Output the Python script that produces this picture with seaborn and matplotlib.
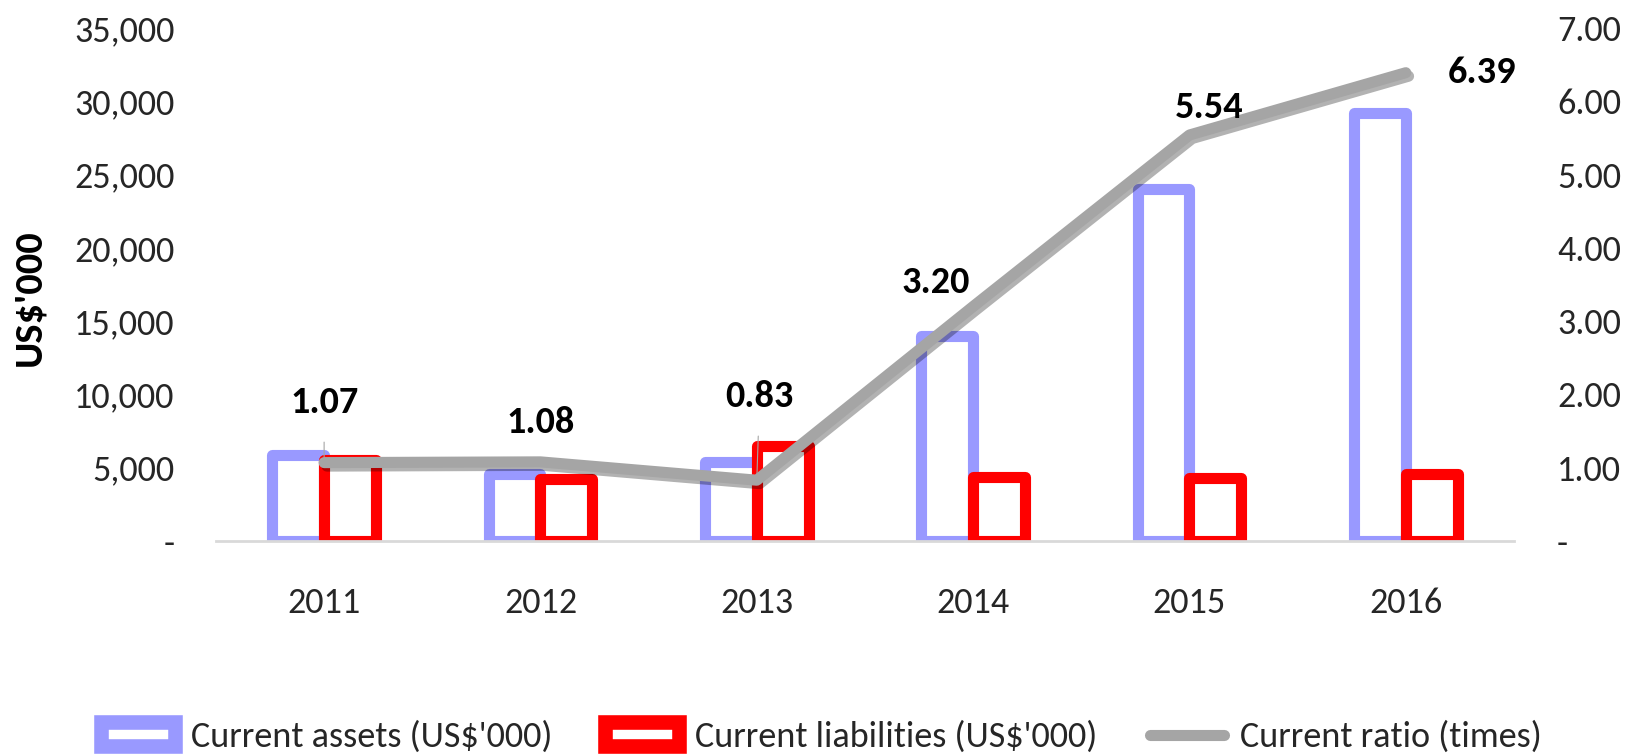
import matplotlib
matplotlib.use("Agg")
import matplotlib.pyplot as plt
import matplotlib.patheffects as pe
from matplotlib import font_manager as fm
from matplotlib.patches import Rectangle
from matplotlib.lines import Line2D
from matplotlib.ticker import FuncFormatter, MultipleLocator
import numpy as np
import pandas as pd
import seaborn as sns

# ---- data ----
years = ["2011", "2012", "2013", "2014", "2015", "2016"]
current_assets = [5900, 4600, 5400, 14000, 24000, 29200]
current_liabilities = [5500, 4250, 6500, 4370, 4330, 4570]
current_ratio = [1.07, 1.08, 0.83, 3.20, 5.54, 6.39]
series_names = ["Current assets (US$'000)", "Current liabilities (US$'000)", "Current ratio (times)"]
y_label = "US$'000"

# ---- style ----
sns.set_theme(style="white")
available = {f.name for f in fm.fontManager.ttflist}
family = next((f for f in ["Carlito", "Lato"] if f in available), "DejaVu Sans")
plt.rcParams["font.family"] = [family, "DejaVu Sans"]
FS = 26
C_ASSETS = "#9999FF"
C_LIAB = "#FF0000"
C_RATIO = "#A5A5A5"
TXT = "#262626"

df = pd.DataFrame({
    "Year": years * 2,
    "Value": current_assets + current_liabilities,
    "Series": [series_names[0]] * len(years) + [series_names[1]] * len(years),
})

fig = plt.figure(figsize=(16.36, 7.55), dpi=100)
ax = fig.add_axes([0.132, 0.2834, 0.7934, 0.6795])

sns.barplot(data=df, x="Year", y="Value", hue="Series", ax=ax,
            palette=[C_ASSETS, C_LIAB], width=0.48, dodge=True,
            fill=False, linewidth=8, legend=False, zorder=2)
for p in ax.patches:
    p.set_facecolor("white")
    p.set_joinstyle("round")
    p.set_path_effects([pe.SimplePatchShadow(offset=(1.5, -1.5), alpha=0.2, shadow_rgbFace="black"),
                        pe.Normal()])

ax.set_ylim(0, 35000)
ax.set_xlim(-0.5, len(years) - 0.5)
ax.yaxis.set_major_locator(MultipleLocator(5000))
ax.yaxis.set_major_formatter(FuncFormatter(lambda v, _: "-" if v == 0 else f"{int(v):,}"))
ax.set_xlabel("")
ax.set_ylabel(y_label, fontsize=29, fontweight="bold", color="black", va="center")
ax.yaxis.set_label_coords(-0.144, 0.474)
ax.tick_params(axis="both", length=0, labelsize=FS, colors=TXT)
ax.tick_params(axis="x", pad=33)
ax.tick_params(axis="y", pad=30)
for s in ["top", "right", "left"]:
    ax.spines[s].set_visible(False)
ax.spines["bottom"].set_color("#D9D9D9")
ax.spines["bottom"].set_linewidth(2)

ax2 = ax.twinx()
x_idx = np.arange(len(years))
sns.lineplot(x=x_idx, y=current_ratio, ax=ax2, color=C_RATIO, linewidth=8,
             solid_capstyle="round", solid_joinstyle="round", zorder=3,
             path_effects=[pe.SimpleLineShadow(offset=(2, -2.5), alpha=0.3, shadow_color="black"),
                           pe.Normal()])
ax2.set_ylim(0, 7)
ax2.yaxis.set_major_locator(MultipleLocator(1))
ax2.yaxis.set_major_formatter(FuncFormatter(lambda v, _: "-" if v == 0 else f"{v:.2f}"))
ax2.tick_params(axis="y", length=0, labelsize=FS, colors=TXT, pad=31)
for s in ["top", "right", "left", "bottom"]:
    ax2.spines[s].set_visible(False)
ax2.set_ylabel("")
ax2.set_xlim(-0.5, len(years) - 0.5)

# data labels (offsets of label centre from point, in points)
label_offsets = [(0, 43), (0, 28), (2, 60), (-27, 17), (14, 20), (55, 0)]
for i, (v, off) in enumerate(zip(current_ratio, label_offsets)):
    kw = {}
    if i in (0, 2):
        kw["arrowprops"] = dict(arrowstyle="-", color="#A6A6A6", lw=0.8, shrinkA=14, shrinkB=0)
    ax2.annotate(f"{v:.2f}", xy=(x_idx[i], v), xytext=off, textcoords="offset points",
                 ha="center", va="center", fontsize=27.5, fontweight="bold", color="black",
                 zorder=5, **kw)

# legend
handles = [
    Rectangle((0, 0), 1, 1, facecolor="white", edgecolor=C_ASSETS, linewidth=10.5, joinstyle="round"),
    Rectangle((0, 0), 1, 1, facecolor="white", edgecolor=C_LIAB, linewidth=10.5, joinstyle="round"),
    Line2D([0], [0], color=C_RATIO, linewidth=8, solid_capstyle="round"),
]
fig.legend(handles, series_names, loc="center", bbox_to_anchor=(0.502, 0.024), ncol=3,
           frameon=False, fontsize=FS, handlelength=2.05, handleheight=0.65,
           handletextpad=0.45, columnspacing=1.45, labelcolor=TXT, borderpad=0)

fig.savefig("out.png", dpi=100)
